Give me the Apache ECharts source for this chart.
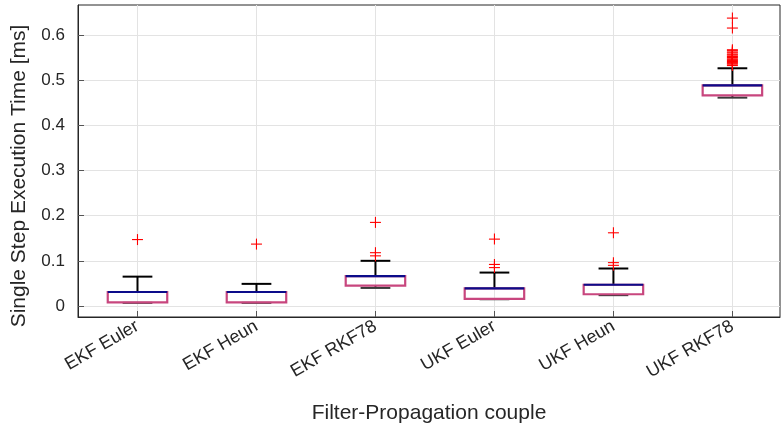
<!DOCTYPE html>
<html>
<head>
<meta charset="utf-8">
<script src="https://cdn.jsdelivr.net/npm/echarts@6/dist/echarts.min.js"></script>
<style>
  html, body { margin: 0; padding: 0; background: #ffffff; }
  #chart { width: 782px; height: 432px; }
</style>
</head>
<body>
<div id="chart"></div>
<script>
// Filter / propagator combinations on the horizontal axis
const categories = ['EKF Euler', 'EKF Heun', 'EKF RKF78', 'UKF Euler', 'UKF Heun', 'UKF RKF78'];

// Box statistics per combination, single step execution time in ms
const lowerWhisker = [0.007, 0.007, 0.040, 0.015, 0.024, 0.461];
const quartile1    = [0.008, 0.008, 0.045, 0.016, 0.026, 0.466];
const medianTime   = [0.031, 0.031, 0.066, 0.039, 0.047, 0.488];
const quartile3    = [0.031, 0.031, 0.066, 0.039, 0.047, 0.488];
const upperWhisker = [0.065, 0.049, 0.100, 0.074, 0.083, 0.526];

// Samples beyond the whiskers
const outliers = [
  [0.147],
  [0.137],
  [0.185, 0.118, 0.111],
  [0.148, 0.092, 0.085],
  [0.162, 0.096, 0.090],
  [0.637, 0.615, 0.567, 0.565, 0.562, 0.560, 0.557, 0.555, 0.552, 0.550,
   0.547, 0.545, 0.543, 0.541, 0.539, 0.537, 0.535, 0.532]
];

// Tick positions
const yTicks = [0, 0.1, 0.2, 0.3, 0.4, 0.5, 0.6];
const xTicks = categories.map((_, i) => i + 1);

const boxData = categories.map((_, i) => [
  i + 1, lowerWhisker[i], quartile1[i], medianTime[i], quartile3[i], upperWhisker[i]
]);
const outlierData = [];
outliers.forEach((list, i) => list.forEach(v => outlierData.push([i + 1, v])));

const FONT = '"Liberation Sans", Arial, Helvetica, sans-serif';
const TEXT = '#262626';

function renderBox(params, api) {
  const x = api.value(0);
  const pLow = api.coord([x, api.value(1)]);
  const pQ1 = api.coord([x, api.value(2)]);
  const pMed = api.coord([x, api.value(3)]);
  const pQ3 = api.coord([x, api.value(4)]);
  const pHigh = api.coord([x, api.value(5)]);
  const boxW = api.size([0.5, 0])[0];
  const capW = api.size([0.25, 0])[0];
  const cx = pMed[0];
  const whisker = { stroke: '#000000', lineWidth: 2 };
  return {
    type: 'group',
    children: [
      { type: 'line', shape: { x1: cx, y1: pQ3[1], x2: cx, y2: pHigh[1] }, style: whisker },
      { type: 'line', shape: { x1: cx, y1: pLow[1], x2: cx, y2: pQ1[1] }, style: whisker },
      { type: 'line', shape: { x1: cx - capW / 2, y1: pHigh[1], x2: cx + capW / 2, y2: pHigh[1] }, style: whisker },
      { type: 'line', shape: { x1: cx - capW / 2, y1: pLow[1], x2: cx + capW / 2, y2: pLow[1] }, style: { stroke: '#3a3a3a', lineWidth: 2 } },
      {
        type: 'rect',
        shape: { x: cx - boxW / 2, y: pQ3[1], width: boxW, height: pQ1[1] - pQ3[1] },
        style: { fill: 'none', stroke: '#C8467E', lineWidth: 2.2 }
      },
      { type: 'line', shape: { x1: cx - boxW / 2, y1: pMed[1], x2: cx + boxW / 2, y2: pMed[1] }, style: { stroke: '#0C0C8A', lineWidth: 2.2 } }
    ]
  };
}

function renderOutlier(params, api) {
  const p = api.coord([api.value(0), api.value(1)]);
  const h = 5.5;
  const st = { stroke: '#FF0000', lineWidth: 1.1 };
  return {
    type: 'group',
    children: [
      { type: 'line', shape: { x1: p[0] - h, y1: p[1], x2: p[0] + h, y2: p[1] }, style: st },
      { type: 'line', shape: { x1: p[0], y1: p[1] - h, x2: p[0], y2: p[1] + h }, style: st }
    ]
  };
}

const chart = echarts.init(document.getElementById('chart'), null, { renderer: 'canvas' });
chart.setOption({
  animation: false,
  backgroundColor: '#ffffff',
  textStyle: { fontFamily: FONT },
  grid: {
    left: 78, right: 2, top: 5, bottom: 115,
    show: true, borderColor: '#262626', borderWidth: 1, backgroundColor: 'transparent'
  },
  xAxis: {
    type: 'value',
    min: 0.5,
    max: 6.4,
    name: 'Filter-Propagation couple',
    nameLocation: 'middle',
    nameGap: 86,
    nameTextStyle: { fontSize: 21, color: TEXT, fontFamily: FONT },
    axisLine: { show: true, onZero: false, lineStyle: { color: '#262626', width: 1 } },
    axisTick: { show: true, inside: true, length: 6, customValues: xTicks, lineStyle: { color: '#555555' } },
    axisLabel: {
      customValues: xTicks,
      rotate: 30,
      margin: 8,
      fontSize: 18,
      color: TEXT,
      fontFamily: FONT,
      formatter: v => categories[Math.round(v) - 1] || ''
    },
    splitLine: { show: true, lineStyle: { color: '#e3e3e3', width: 1 } }
  },
  yAxis: {
    type: 'value',
    min: -0.0243,
    max: 0.666,
    name: 'Single Step Execution Time [ms]',
    nameLocation: 'middle',
    nameGap: 48,
    nameTextStyle: { fontSize: 21, color: TEXT, fontFamily: FONT, padding: [0, 30, 0, 0] },
    axisLine: { show: true, onZero: false, lineStyle: { color: '#262626', width: 1 } },
    axisTick: { show: true, inside: true, length: 6, customValues: yTicks, lineStyle: { color: '#555555' } },
    axisLabel: {
      customValues: yTicks,
      margin: 13,
      fontSize: 17,
      color: TEXT,
      fontFamily: FONT,
      formatter: v => (Math.abs(v) < 1e-9 ? '0' : String(Math.round(v * 10) / 10))
    },
    splitLine: { show: true, lineStyle: { color: '#e3e3e3', width: 1 } }
  },
  series: [
    {
      type: 'custom',
      name: 'box',
      renderItem: renderBox,
      encode: { x: 0, y: [1, 2, 3, 4, 5] },
      data: boxData,
      z: 3
    },
    {
      type: 'custom',
      name: 'outliers',
      renderItem: renderOutlier,
      encode: { x: 0, y: 1 },
      data: outlierData,
      z: 4
    }
  ]
});
</script>
</body>
</html>
